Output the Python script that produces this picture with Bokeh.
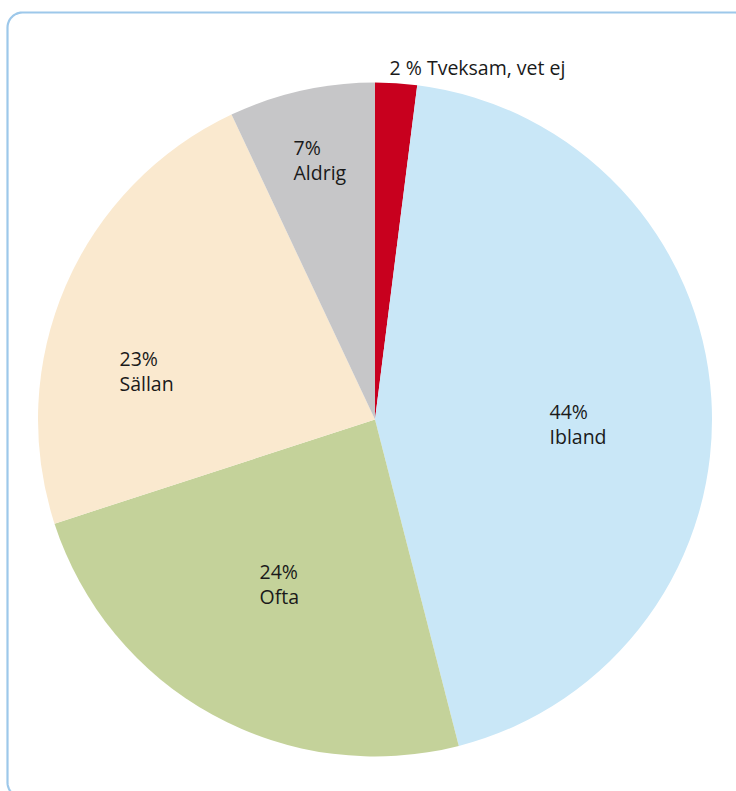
import numpy as np
from bokeh.plotting import figure
from bokeh.models import Range1d, ColumnDataSource
from bokeh.core.properties import value
from bokeh.embed import file_html
from bokeh.resources import INLINE

# ---- data (clockwise from 12 o'clock) ----
categories = ["Tveksam, vet ej", "Ibland", "Ofta", "Sällan", "Aldrig"]
shares = [2, 44, 24, 23, 7]
colors = ["#C8001E", "#C9E7F7", "#C4D29A", "#FAE9CF", "#C6C6C8"]
pct_labels = ["2 % Tveksam, vet ej", "44%", "24%", "23%", "7%"]
name_labels = ["", "Ibland", "Ofta", "Sällan", "Aldrig"]

# ---- layout (page pixel coordinates) ----
W, H = 736, 791
PX0, PY0 = 0, 0          # page offset of the figure
cx_page, cy_page, R = 374.5, 419.0, 337.0
label_x = [389, 549, 259, 119, 293]
label_base = [67, 411, 571, 358, 147]
line_gap = 25

def ty(page_y):
    return (PY0 + H) - page_y + PY0  # data y (upwards) from page y

p = figure(width=W, height=H, output_backend="svg", toolbar_location=None,
           x_range=Range1d(PX0, PX0 + W), y_range=Range1d(PY0, PY0 + H),
           min_border=0)
p.axis.visible = False
p.grid.visible = False
p.outline_line_color = None
p.background_fill_color = "white"
p.border_fill_color = "white"

# rounded frame
fl, ft, fr, fb, rad = 7.0, 12.0, 750.0, 797.0, 15.0
pts = []
def arc(cx, cy, a0, a1):
    for a in np.linspace(a0, a1, 12):
        pts.append((cx + rad * np.cos(a), cy + rad * np.sin(a)))
# page coords, y down; angles measured in page coords
arc(fl + rad, ft + rad, np.pi, 1.5 * np.pi)
arc(fr - rad, ft + rad, 1.5 * np.pi, 2 * np.pi)
arc(fr - rad, fb - rad, 0, 0.5 * np.pi)
arc(fl + rad, fb - rad, 0.5 * np.pi, np.pi)
pts.append(pts[0])
p.line([q[0] for q in pts], [ty(q[1]) for q in pts], line_color="#9DC8EA", line_width=2.2)

# pie
total = float(sum(shares))
cum = np.cumsum([0] + shares) / total
start = [np.pi / 2 - cum[i + 1] * 2 * np.pi for i in range(len(shares))]
end = [np.pi / 2 - cum[i] * 2 * np.pi for i in range(len(shares))]
src = ColumnDataSource(dict(start=start, end=end, color=colors, cat=categories))
p.wedge(x=cx_page, y=ty(cy_page), radius=R, start_angle="start", end_angle="end",
        fill_color="color", line_color=None, source=src)

# labels
xs, ys, txt = [], [], []
for i in range(len(categories)):
    xs.append(label_x[i]); ys.append(ty(label_base[i])); txt.append(pct_labels[i])
    if name_labels[i]:
        xs.append(label_x[i]); ys.append(ty(label_base[i] + line_gap)); txt.append(name_labels[i])
p.text(x=xs, y=ys, text=txt, text_font=value("Open Sans"), text_font_size="19.5px",
       text_color="#1A1A1A", text_align="left", text_baseline="alphabetic")

open("out.html", "w").write(file_html(p, INLINE))
